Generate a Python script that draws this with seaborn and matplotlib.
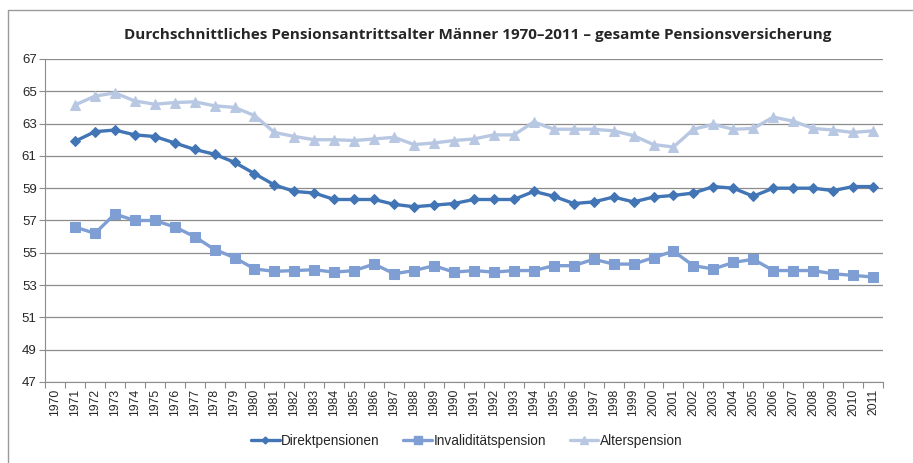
import numpy as np
import pandas as pd
import matplotlib.pyplot as plt
import matplotlib.lines as mlines
import seaborn as sns

# category labels on the x axis (1970 has no data)
tick_years = list(range(1970, 2012))
years = list(range(1971, 2012))

direkt = [61.9, 62.5, 62.6, 62.3, 62.2, 61.8, 61.4, 61.1, 60.6, 59.9,
          59.2, 58.8, 58.7, 58.3, 58.3, 58.3, 58.0, 57.85, 57.95, 58.05,
          58.3, 58.3, 58.3, 58.8, 58.5, 58.05, 58.15, 58.45, 58.15, 58.45,
          58.55, 58.7, 59.1, 59.0, 58.5, 59.0, 59.0, 59.0, 58.85, 59.1, 59.1]

invalid = [56.6, 56.2, 57.4, 57.0, 57.0, 56.6, 56.0, 55.2, 54.7, 54.0,
           53.85, 53.9, 53.95, 53.8, 53.9, 54.3, 53.7, 53.9, 54.2, 53.8,
           53.9, 53.8, 53.9, 53.9, 54.2, 54.2, 54.6, 54.3, 54.3, 54.7,
           55.1, 54.2, 54.0, 54.4, 54.6, 53.9, 53.9, 53.9, 53.7, 53.6, 53.5]

alters = [64.15, 64.7, 64.9, 64.4, 64.2, 64.3, 64.35, 64.1, 64.0, 63.5,
          62.45, 62.2, 62.0, 62.0, 61.95, 62.05, 62.15, 61.7, 61.8, 61.95,
          62.05, 62.3, 62.3, 63.1, 62.65, 62.65, 62.65, 62.55, 62.25, 61.7,
          61.55, 62.65, 62.95, 62.65, 62.7, 63.4, 63.15, 62.7, 62.6, 62.45, 62.55]

series = ["Direktpensionen", "Invaliditätspension", "Alterspension"]
colors = ["#4175b5", "#7f9fd4", "#b8c8e3"]
markers = ["D", "s", "^"]
msizes = [5, 7, 7.5]

sns.set_style("white")
plt.rcParams["font.family"] = ["Liberation Sans", "DejaVu Sans"]

fig = plt.figure(figsize=(9.13, 4.63), dpi=100)
ax = fig.add_axes([0.0493, 0.175, 0.9178, 0.6976])

for name, vals, c, m, ms in zip(series, [direkt, invalid, alters], colors, markers, msizes):
    df = pd.DataFrame({"Jahr": years, "Wert": vals})
    sns.lineplot(data=df, x="Jahr", y="Wert", ax=ax, color=c, marker=m,
                 markersize=ms, markeredgecolor=c, linewidth=2.4, label=name,
                 zorder=3)

ax.set_xlim(1969.5, 2011.5)
ax.set_ylim(47, 67)
ax.set_yticks(np.arange(47, 68, 2))
ax.set_xticks(tick_years)
ax.set_xticklabels([str(y) for y in tick_years], rotation=90, fontsize=8.7)
ax.set_xticks(np.arange(1969.5, 2012, 1), minor=True)
ax.tick_params(axis="x", which="major", length=0, pad=5)
ax.tick_params(axis="x", which="minor", length=4, width=0.8, color="#8c8c8c", bottom=True)
ax.tick_params(axis="y", length=4, width=0.8, color="#8c8c8c", left=True, labelsize=9.5, pad=2)
ax.set_xlabel("")
ax.set_ylabel("")

ax.grid(axis="y", color="#8c8c8c", linewidth=0.9)
ax.grid(axis="x", visible=False)
for side in ["top", "right"]:
    ax.spines[side].set_visible(False)
for side in ["left", "bottom"]:
    ax.spines[side].set_color("#8c8c8c")
    ax.spines[side].set_linewidth(0.8)

ax.get_legend().remove()
handles = [mlines.Line2D([], [], color=c, marker=m, markersize=ms - 1.5, markeredgecolor=c, linewidth=2.4)
           for c, m, ms in zip(colors, markers, msizes)]
fig.legend(handles, series, loc="center", bbox_to_anchor=(0.511, 1 - 441 / 463), ncol=3,
           frameon=False, fontsize=9.8, handlelength=2.1, handletextpad=0.1,
           columnspacing=1.75)

fig.text(0.5235, 1 - 35 / 463, "Durchschnittliches Pensionsantrittsalter Männer 1970–2011 – gesamte Pensionsversicherung",
         ha="center", va="center", fontsize=11, fontweight="bold", family=["Open Sans", "DejaVu Sans"])

# outer chart frame (top and left edges visible)
fig.add_artist(mlines.Line2D([8 / 913, 1], [1 - 10 / 463, 1 - 10 / 463], color="#9a9a9a", linewidth=1))
fig.add_artist(mlines.Line2D([8 / 913, 8 / 913], [0, 1 - 10 / 463], color="#9a9a9a", linewidth=1))

fig.savefig("out.png", dpi=100)
